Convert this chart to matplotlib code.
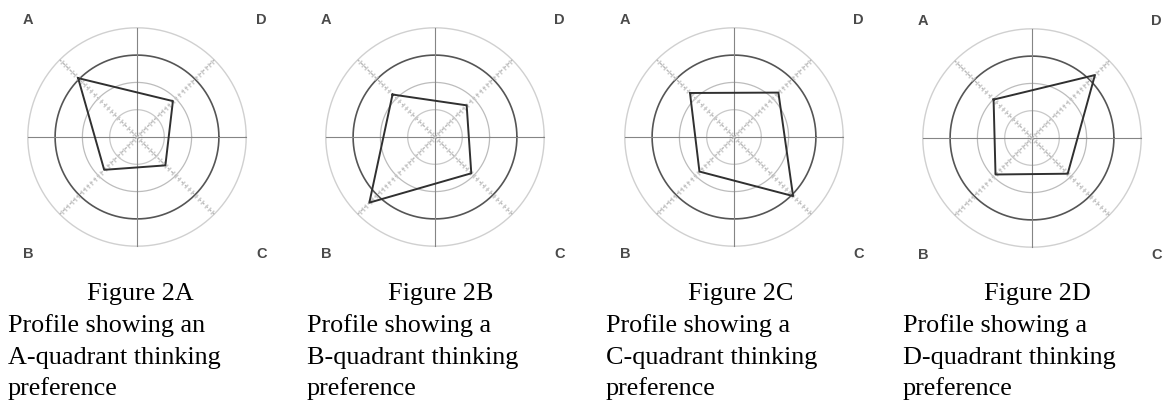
import numpy as np
import matplotlib
matplotlib.use('Agg')
import matplotlib.pyplot as plt

# quadrant order around the profile, with the angle of each axis
quadrants = ['A', 'D', 'C', 'B']
angles_deg = [135, 45, -45, -135]

# profile scores, in rings (1 ring = one grid circle)
profile_2a = [3.05, 1.86, 1.47, 1.70]
profile_2b = [2.20, 1.64, 1.88, 3.40]
profile_2c = [2.28, 2.30, 3.06, 1.79]
profile_2d = [1.99, 3.26, 1.85, 1.89]
profiles = [profile_2a, profile_2b, profile_2c, profile_2d]

fig_titles = ['Figure 2A', 'Figure 2B', 'Figure 2C', 'Figure 2D']
fig_captions = [
    ['Profile showing an', 'A-quadrant thinking', 'preference'],
    ['Profile showing a', 'B-quadrant thinking', 'preference'],
    ['Profile showing a', 'C-quadrant thinking', 'preference'],
    ['Profile showing a', 'D-quadrant thinking', 'preference'],
]

W, H = 1164, 400
UNIT = 27.3           # pixels per ring
centers = [(137, 137), (435, 137), (734, 137), (1032, 138)]
title_x = [140, 441, 741, 1037]
body_x = [8, 307, 606, 903]

fig = plt.figure(figsize=(W / 100, H / 100), dpi=100)
fig.patch.set_facecolor('white')

half = 145
lim = half / UNIT
theta = np.linspace(0, 2 * np.pi, 361)

for i, (cx, cy) in enumerate(centers):
    ax = fig.add_axes([(cx - half) / W, 1 - (cy + half) / H,
                       2 * half / W, 2 * half / H])
    ax.set_xlim(-lim, lim)
    ax.set_ylim(-lim, lim)
    ax.set_aspect('equal')
    ax.axis('off')

    # grid rings
    ring_colors = ['#c8c8c8', '#bcbcbc', '#555555', '#d0d0d0']
    ring_widths = [0.9, 0.9, 1.2, 1.0]
    for r, c, lw in zip([1, 2, 3, 4], ring_colors, ring_widths):
        ax.plot(r * np.cos(theta), r * np.sin(theta), color=c, lw=lw, zorder=1)

    # main cross
    ax.plot([-4, 4], [0, 0], color='#858585', lw=0.8, zorder=1)
    ax.plot([0, 0], [-4, 4], color='#858585', lw=0.8, zorder=1)

    # hatched diagonals
    for a in angles_deg:
        rad = np.deg2rad(a)
        rr = np.arange(0.15, 4.05, 0.17)
        ax.plot([0, 4 * np.cos(rad)], [0, 4 * np.sin(rad)],
                color='#b8b8b8', lw=1.0, ls=(0, (2, 1.5)), zorder=1)
        ax.plot(rr * np.cos(rad), rr * np.sin(rad), ls='none',
                marker=(2, 2, a), ms=3.5, mew=0.7, color='#cccccc', zorder=1)

    # profile polygon
    vals = profiles[i]
    xs = [v * np.cos(np.deg2rad(a)) for v, a in zip(vals, angles_deg)]
    ys = [v * np.sin(np.deg2rad(a)) for v, a in zip(vals, angles_deg)]
    xs.append(xs[0])
    ys.append(ys[0])
    ax.plot(xs, ys, color='#303030', lw=1.4, zorder=3)

    # quadrant letters
    label_pos = {'A': (-4.0, 4.27), 'D': (4.55, 4.27),
                 'C': (4.55, -4.27), 'B': (-4.0, -4.27)}
    for q in quadrants:
        lx, ly = label_pos[q]
        ax.text(lx, ly, q, ha='center', va='center', fontsize=10.5,
                fontweight='bold', color='#4a4a4a', family='Liberation Sans')

    # caption
    fig.text(title_x[i] / W, 1 - 300 / H, fig_titles[i], ha='center',
             va='baseline', fontsize=18.8, family='Liberation Serif')
    for k, line in enumerate(fig_captions[i]):
        fig.text(body_x[i] / W, 1 - (332 + 31.6 * k) / H, line, ha='left',
                 va='baseline', fontsize=18.8, family='Liberation Serif')

fig.savefig('out.png', dpi=100, facecolor='white')
